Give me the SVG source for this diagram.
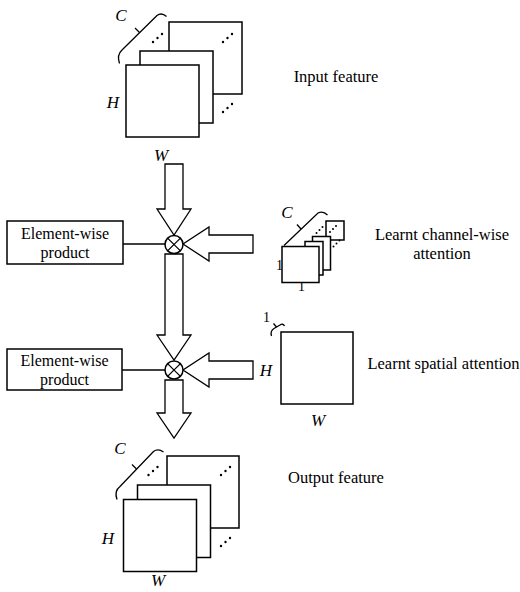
<svg xmlns="http://www.w3.org/2000/svg" xmlns:xlink="http://www.w3.org/1999/xlink" width="520" height="592" viewBox="0 0 520 592">
<style>
.sq{fill:#fff;stroke:#000;stroke-width:1.5}
.ar{fill:#fff;stroke:#000;stroke-width:1.3;stroke-linejoin:miter}
.ln{fill:none;stroke:#000;stroke-width:1.3}
.br{fill:none;stroke:#000;stroke-width:1.3}
.t{font-family:"Liberation Serif","Times New Roman",serif;font-size:16.5px;fill:#000}
.b{font-family:"Liberation Serif","Times New Roman",serif;font-size:16px;fill:#000;text-anchor:middle}
.i{font-family:"Liberation Serif","Times New Roman",serif;font-size:17px;font-style:italic;fill:#000;text-anchor:middle}
.n{font-family:"Liberation Serif","Times New Roman",serif;font-size:14px;fill:#000;text-anchor:middle}
.c{text-anchor:middle}
</style>
<defs>
<g id="dots"><circle cx="0" cy="8" r="1.2"/><circle cx="4.5" cy="4" r="1.2"/><circle cx="9" cy="0" r="1.2"/></g>
<g id="sdots"><circle cx="0" cy="6" r="1"/><circle cx="3" cy="3" r="1"/><circle cx="6" cy="0" r="1"/></g>
</defs>
<rect width="520" height="592" fill="#fff"/>

<g id="connectors">
<polygon class="ar" points="165,164 183,164 183,209 191,209 174,235 157,209 165,209"/>
<polygon class="ar" points="165,254 183,254 183,335 191,335 174,360 157,335 165,335"/>
<polygon class="ar" points="165,380 183,380 183,413 191,413 174,438 157,413 165,413"/>
<polygon class="ar" points="253,235 209,235 209,227 183,244 209,261 209,253 253,253"/>
<polygon class="ar" points="253,361 209,361 209,353 183,370 209,387 209,379 253,379"/>
<line class="ln" x1="123" y1="244" x2="165" y2="244"/>
<line class="ln" x1="122" y1="370" x2="165" y2="370"/>
</g>

<g id="otimes1">
<circle class="sq" cx="174" cy="244.5" r="9" stroke-width="1.3"/>
<line class="ln" x1="167.6" y1="238.1" x2="180.4" y2="250.9"/>
<line class="ln" x1="180.4" y1="238.1" x2="167.6" y2="250.9"/>
</g>
<g id="otimes2">
<circle class="sq" cx="174" cy="370" r="9" stroke-width="1.3"/>
<line class="ln" x1="167.6" y1="363.6" x2="180.4" y2="376.4"/>
<line class="ln" x1="180.4" y1="363.6" x2="167.6" y2="376.4"/>
</g>

<g id="product1">
<rect class="sq" x="7" y="221" width="116" height="43" stroke-width="1.3"/>
<text class="b" x="65" y="239">Element-wise</text>
<text class="b" x="65" y="257.5">product</text>
</g>
<g id="product2">
<rect class="sq" x="7" y="349" width="115" height="41" stroke-width="1.3"/>
<text class="b" x="64.5" y="366">Element-wise</text>
<text class="b" x="64.5" y="384.5">product</text>
</g>

<g id="input-feature">
<path class="br" d="M119.5,63.5 Q116.5,55 122,50 L157,15.5 Q161.5,12 166.5,16.5"/>
<line class="ln" x1="139.5" y1="32.5" x2="135" y2="28"/>
<text class="i" x="121" y="21">C</text>
<use xlink:href="#dots" x="153" y="34"/>
<rect class="sq" x="169" y="22" width="73" height="72"/>
<use xlink:href="#dots" x="223" y="34"/>
<use xlink:href="#dots" x="223" y="104"/>
<rect class="sq" x="140" y="51" width="73" height="72"/>
<rect class="sq" x="126" y="65" width="73" height="72"/>
<text class="i" x="113" y="108">H</text>
<text class="i" x="161" y="161">W</text>
<text class="t c" x="336" y="82">Input feature</text>
</g>

<g id="channel-attention">
<path class="br" d="M284,245.5 L318,213 Q323,210.5 327.5,215"/>
<line class="ln" x1="301" y1="229" x2="297" y2="224.5"/>
<text class="i" x="287" y="218">C</text>
<text class="n" x="279.5" y="270">1</text>
<text class="n" x="301.5" y="291">1</text>
<rect class="sq" x="326" y="221" width="18" height="19" stroke-width="1.3"/>
<use xlink:href="#sdots" x="330" y="226"/>
<use xlink:href="#sdots" x="316.5" y="227"/>
<use xlink:href="#sdots" x="333.5" y="240.5"/>
<rect class="sq" x="312.5" y="236.5" width="18" height="33.5" stroke-width="1.3"/>
<rect class="sq" x="305" y="241.5" width="18" height="33.5" stroke-width="1.3"/>
<rect class="sq" x="282" y="246.5" width="37" height="36" stroke-width="1.3"/>
<text class="t c" x="442" y="239.5">Learnt channel-wise</text>
<text class="t c" x="442" y="258.5">attention</text>
</g>

<g id="spatial-attention">
<text class="n" x="266.5" y="322">1</text>
<path class="br" d="M271.5,336 Q270,331 274,328.5 L280,325 Q283,323 284.5,326"/>
<line class="ln" x1="276.5" y1="327" x2="273.5" y2="323.5"/>
<rect class="sq" x="281" y="332" width="72" height="72"/>
<text class="i" x="266" y="375.5">H</text>
<text class="i" x="318" y="425.5">W</text>
<text class="t c" x="443.5" y="368.5">Learnt spatial attention</text>
</g>

<g id="output-feature">
<path class="br" d="M117,499.5 Q114,491 120,486.5 L153.5,451.5 Q158,448 163.5,452"/>
<line class="ln" x1="136.5" y1="469" x2="132" y2="464.5"/>
<text class="i" x="120" y="454">C</text>
<use xlink:href="#dots" x="148.5" y="467"/>
<rect class="sq" x="167" y="456" width="72" height="72"/>
<use xlink:href="#dots" x="221" y="467"/>
<use xlink:href="#dots" x="221" y="538"/>
<rect class="sq" x="137.5" y="485" width="73" height="72.5"/>
<rect class="sq" x="123.5" y="499.5" width="73" height="72"/>
<text class="i" x="108" y="544">H</text>
<text class="i" x="158" y="586">W</text>
<text class="t c" x="336" y="483">Output feature</text>
</g>
</svg>
